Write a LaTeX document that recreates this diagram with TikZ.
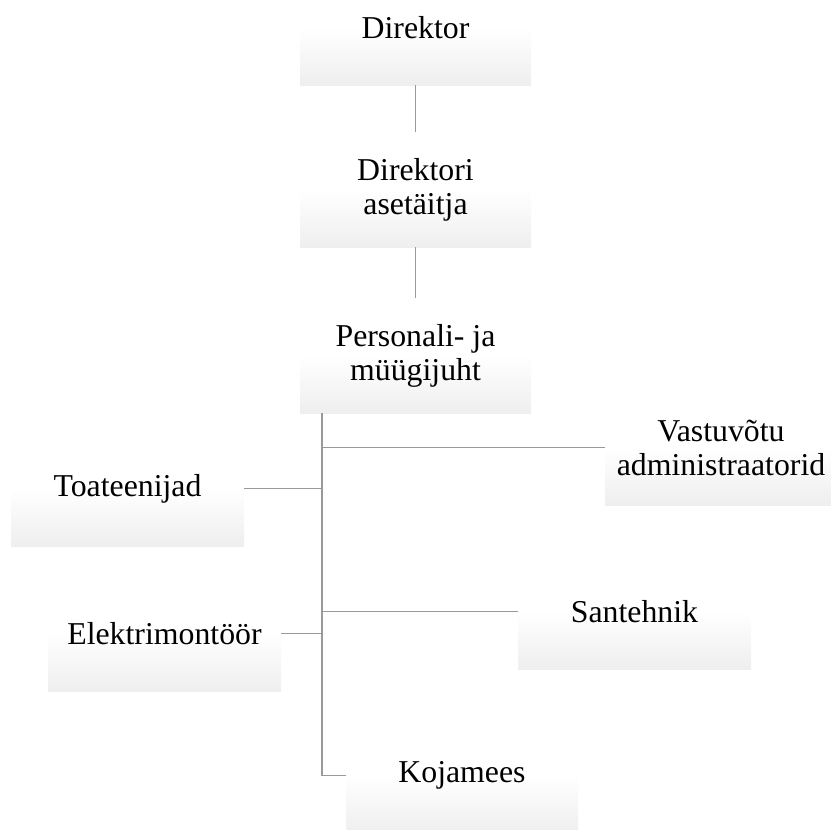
\documentclass[tikz,border=0pt]{standalone}
\usepackage{fontspec}
\setmainfont{Liberation Serif}
\newfontfamily\orgfont{Liberation Serif}
\pgfdeclareverticalshading{boxshade}{100bp}{color(0bp)=(black!13); color(50bp)=(white); color(100bp)=(white)}
\tikzset{
  orgbox/.style={shade, shading=boxshade, draw=none, inner sep=0pt,
    minimum height=115pt, align=center,
    font=\orgfont\fontsize{31.8}{34}\selectfont},
  link/.style={draw=black!40, line width=1.4pt}
}
\begin{document}
\begin{tikzpicture}[x=1pt,y=-1pt]
\clip (0,0) rectangle (831,830);
\node[orgbox, minimum width=231pt] (dir)  at (415.5,27.5)  {Direktor};
\node[orgbox, minimum width=231pt] (ase)  at (415.5,189.5) {Direktori\\asetäitja};
\node[orgbox, minimum width=231pt] (pers) at (415.5,355.5) {Personali- ja\\müügijuht};
\node[orgbox, minimum width=232pt] (vast) at (721,447.5)   {Vastuvõtu\\administraatorid};
\node[orgbox, minimum width=233pt] (toa)  at (127.5,488.5) {Toateenijad};
\node[orgbox, minimum width=233pt] (san)  at (634.5,611.5) {Santehnik};
\node[orgbox, minimum width=233pt] (ele)  at (164.5,633.5) {Elektrimontöör};
\node[orgbox, minimum width=232pt] (koj)  at (462,775.5)   {Kojamees};
\coordinate (t) at (322,413);
\draw[link] (dir.south) -- (ase.north);
\draw[link] (ase.south) -- (pers.north);
\draw[link] (t) |- (koj.west);
\draw[link] (vast.west -| t) -- (vast.west);
\draw[link] (toa.east) -- (toa.east -| t);
\draw[link] (san.west -| t) -- (san.west);
\draw[link] (ele.east) -- (ele.east -| t);
\end{tikzpicture}
\end{document}
